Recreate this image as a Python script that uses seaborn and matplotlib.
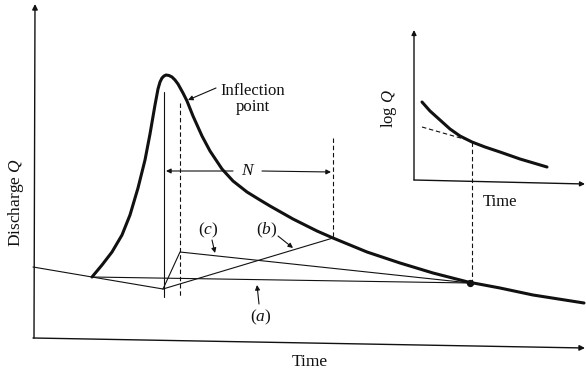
import matplotlib
matplotlib.use("Agg")
import matplotlib.pyplot as plt
import seaborn as sns
import pandas as pd

sns.set_theme(style="white")
plt.rcParams["font.family"] = ["Liberation Serif", "DejaVu Serif"]
plt.rcParams["mathtext.fontset"] = "custom"
plt.rcParams["mathtext.rm"] = "Liberation Serif"
plt.rcParams["mathtext.it"] = "Liberation Serif:italic"

# Drawing frame: x = time (left to right), y = height on the sheet (downwards)
# Storm hydrograph
hydro_t = [92, 102, 112, 122, 130, 138, 145, 150, 155, 158, 160, 162, 164,
           166, 169, 172, 175, 178, 183, 187, 193, 202, 210, 222, 233, 247,
           260, 270, 293, 317, 333, 367, 400, 433, 468, 500, 533, 584]
hydro_q = [277, 265, 252, 235, 215, 188, 160, 134, 105, 89, 82, 78, 76,
           75, 75.5, 77, 80, 84, 93, 101, 116, 136, 151, 169, 181, 192,
           200, 206, 219, 231, 238, 252, 263, 273, 282, 288, 295, 303]

# Pre-event recession extended to below the peak
recession_t = [33, 92, 163]
recession_q = [267, 277, 289]
# Separation methods
sep_a_t = [92, 470]
sep_a_q = [277, 283]
sep_b_t = [163, 333]
sep_b_q = [289, 238]
sep_c_t = [163, 180, 470]
sep_c_q = [289, 252, 283]

# Inset: log Q recession
inset_t = [422, 430, 440, 450, 460, 472, 485, 500, 520, 547]
inset_q = [102, 111, 120, 129, 136, 142, 147, 152, 159, 167]
inset_tangent_t = [422, 471]
inset_tangent_q = [127, 141]

fig = plt.figure(figsize=(5.86, 3.72), dpi=100)
ax = fig.add_axes([0, 0, 1, 1])
ax.set_xlim(0, 586)
ax.set_ylim(372, 0)
ax.axis("off")

ink = "#111111"
thin = 0.8


def line(t, q, lw=thin, ls="-"):
    df = pd.DataFrame({"t": t, "q": q})
    sns.lineplot(data=df, x="t", y="q", sort=False, estimator=None, ax=ax,
                 color=ink, lw=lw, ls=ls, solid_joinstyle="round",
                 solid_capstyle="round")


def arrow(start, end, lw=thin, ms=8):
    ax.annotate("", xy=end, xytext=start,
                arrowprops=dict(arrowstyle="-|>", lw=lw, color=ink,
                                mutation_scale=ms, shrinkA=0, shrinkB=0))


# Main axes
arrow((34, 338), (35, 4), lw=1.0)
arrow((33, 338), (585, 348), lw=1.0)

line(hydro_t, hydro_q, lw=2.2)
line(recession_t, recession_q)
line(sep_a_t, sep_a_q)
line(sep_b_t, sep_b_q)
line(sep_c_t, sep_c_q)

# Peak and inflection verticals
line([164, 164], [92, 297])
line([180, 180], [103, 297], ls=(0, (4, 2.5)))
line([333, 333], [138, 238], ls=(0, (4, 2.5)))
line([472, 472], [142, 283], ls=(0, (4, 2.5)))
ax.scatter([470], [283], s=18, color=ink, zorder=5)

# N days after the peak
arrow((233, 171), (166, 171), ms=7)
arrow((262, 171), (331, 172), ms=7)
ax.text(248, 171, "$N$", ha="center", va="center", fontsize=12.5, color=ink)

ax.text(253, 99, "Inflection\npoint", ha="center", va="center",
        fontsize=12, linespacing=1.05, color=ink)
arrow((216, 88), (188, 100), ms=7)

ax.text(208, 230, "($c$)", ha="center", va="center", fontsize=12.5, color=ink)
arrow((212, 240), (215, 253), ms=7)
ax.text(267, 230, "($b$)", ha="center", va="center", fontsize=12.5, color=ink)
arrow((278, 236), (293, 248), ms=7)
ax.text(261, 317, "($a$)", ha="center", va="center", fontsize=12.5, color=ink)
arrow((259, 304), (257, 285), ms=7)

ax.text(16, 203, "Discharge $Q$", rotation=90, ha="center", va="center",
        fontsize=12.5, color=ink)
ax.text(310, 362, "Time", ha="center", va="center", fontsize=12.5, color=ink)

# Inset
arrow((414, 180), (414, 30), lw=1.0, ms=7)
arrow((414, 180), (585, 184), lw=1.0, ms=7)
line(inset_t, inset_q, lw=2.2)
line(inset_tangent_t, inset_tangent_q, ls=(0, (4, 2.5)))
ax.text(389, 108, "log $Q$", rotation=90, ha="center", va="center",
        fontsize=12, color=ink)
ax.text(500, 202, "Time", ha="center", va="center", fontsize=12, color=ink)

fig.savefig("out.png", dpi=100, facecolor="white")
